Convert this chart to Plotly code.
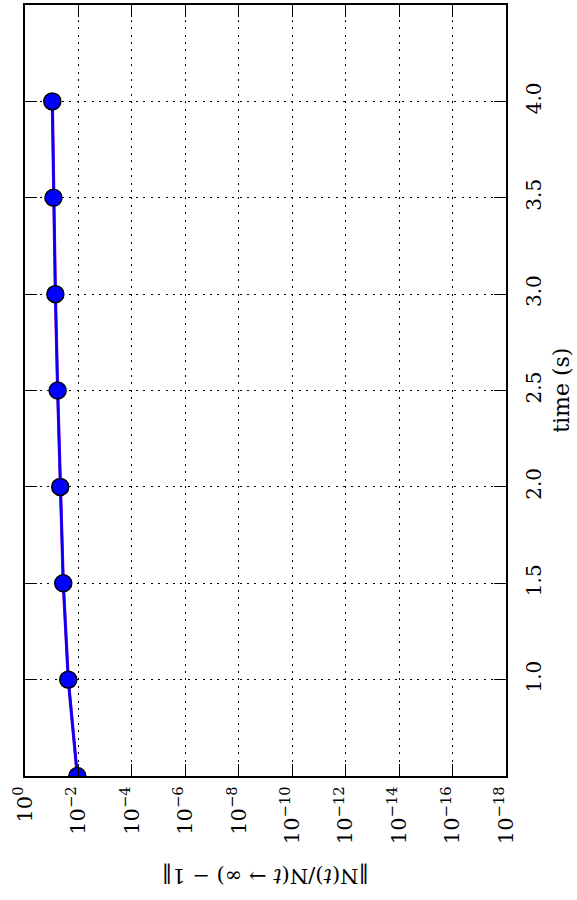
import plotly.graph_objects as go

# Data
time_s = [0.5, 1.0, 1.5, 2.0, 2.5, 3.0, 3.5, 4.0]
norm_err = [0.011, 0.024, 0.037, 0.048, 0.060, 0.073, 0.086, 0.095]

x_tick_exps = [0, -2, -4, -6, -8, -10, -12, -14, -16, -18]
x_tick_vals = [10.0 ** e for e in x_tick_exps]
x_tick_text = ["10<sup>%s</sup>" % (str(e).replace("-", "−")) for e in x_tick_exps]
y_tick_vals = [1.0, 1.5, 2.0, 2.5, 3.0, 3.5, 4.0]
y_tick_text = ["%.1f" % v for v in y_tick_vals]

FONT = "DejaVu Serif"

fig = go.Figure()
fig.add_trace(go.Scatter(
    x=norm_err, y=time_s, mode="lines",
    line=dict(color="#a000c0", width=3.2),
    hoverinfo="skip", showlegend=False))
fig.add_trace(go.Scatter(
    x=norm_err, y=time_s, mode="lines+markers",
    line=dict(color="#0000ff", width=2.5),
    marker=dict(size=17, color="#0000ff", line=dict(color="black", width=1.5)),
    showlegend=False))

axis_common = dict(
    showline=True, linecolor="black", linewidth=2, mirror="allticks",
    ticks="inside", ticklen=12, tickwidth=1.2, tickcolor="black",
    showgrid=True, gridcolor="black", gridwidth=1, griddash="2px,5.4px",
    zeroline=False, layer="above traces",
)

fig.update_xaxes(type="log", range=[0, -18], tickvals=x_tick_vals,
                 ticktext=x_tick_text, tickangle=-90,
                 tickfont=dict(family=FONT, size=21, color="black"),
                 **axis_common)
fig.update_yaxes(range=[0.5, 4.5], side="right", tickvals=y_tick_vals,
                 ticktext=y_tick_text, tickangle=-90, ticklabelstandoff=9,
                 tickfont=dict(family=FONT, size=20, color="black"),
                 **axis_common)

fig.add_annotation(text="time (s)", xref="paper", yref="paper",
                   x=1.115, y=0.5, xanchor="center", yanchor="middle",
                   textangle=-90, showarrow=False,
                   font=dict(family=FONT, size=22, color="black"))
fig.add_annotation(text="‖N(<i>t</i>)/N(<i>t</i> → ∞) − 1‖", xref="paper", yref="paper",
                   x=0.5, y=-0.129, xanchor="center", yanchor="middle",
                   textangle=180, showarrow=False,
                   font=dict(family=FONT, size=21, color="black"))

fig.update_layout(
    width=577, height=900,
    margin=dict(l=25, r=71, t=3, b=124),
    plot_bgcolor="white", paper_bgcolor="white",
)

fig.write_html("out.html", config={"displayModeBar": False},
               post_script="document.body.style.margin='0';")
